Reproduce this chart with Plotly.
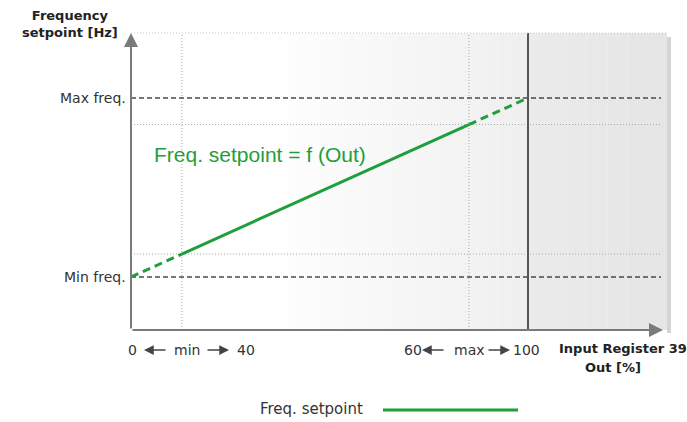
import plotly.graph_objects as go

# ---------------- data ----------------
OUT_PCT = [0, 12.8, 85.1, 100]        # Input Register 39 Out [%]
FREQ_HZ = [20, 27.7, 71.1, 80]        # frequency setpoint
MIN_FREQ, MAX_FREQ = 20, 80
MIN_OUT, MAX_OUT = 12.8, 85.1
FULL_OUT = 100
Y_LABELS = ["Min freq.", "Max freq."]
X_GROUP_LEFT = ["0", "min", "40"]
X_GROUP_RIGHT = ["60", "max", "100"]
SERIES_NAME = "Freq. setpoint"
FORMULA = "Freq. setpoint = f (Out)"
Y_TITLE = "<b>Frequency</b><br><b>setpoint [Hz]</b>"
X_TITLE = ["<b>Input Register 39</b>", "<b>Out [%]</b>"]

# ---------------- geometry helpers (layout only) ----------------
W, H = 687, 422
L, R, T, B = 131, 20, 33, 92
PW, PH = W - L - R, H - T - B
SX = (528 - 131) / 100.0
SY = (277 - 98) / 60.0


def px2x(px):
    return (px - 131) / SX


def py2y(py):
    return 20 + (277 - py) / SY


def ppx(px):  # pixel -> paper x
    return (px - L) / PW


def ppy(py):  # pixel -> paper y
    return (T + PH - py) / PH


XR = [0, px2x(L + PW)]
YR = [py2y(T + PH), py2y(T)]

GREEN = "#1f9e3c"
TXT = "#333333"
FONT = "DejaVu Sans"

fig = go.Figure()

styles = [dict(dash="8px,5px"), dict(dash="solid"), dict(dash="8px,5px")]
for i in range(3):
    fig.add_trace(go.Scatter(
        x=OUT_PCT[i:i + 2], y=FREQ_HZ[i:i + 2], mode="lines",
        line=dict(color=GREEN, width=3, **styles[i]),
        name=SERIES_NAME, showlegend=False, hoverinfo="skip"))

shapes = []
# gradient background panel
N = 40
for i in range(N):
    a = 131 + (528 - 131) * i / N
    b = 131 + (528 - 131) * (i + 1) / N
    t = max(0.0, ((a + b) / 2 - 260) / (528 - 260))
    g = int(round(255 - t * 16))
    shapes.append(dict(type="rect", xref="x", yref="y", x0=px2x(a), x1=px2x(b) + 0.05,
                       y0=YR[0], y1=YR[1], fillcolor=f"rgb({g},{g},{g})",
                       line=dict(width=0), layer="below"))
N2 = 14
for i in range(N2):
    a = 528 + (667 - 528) * i / N2
    b = 528 + (667 - 528) * (i + 1) / N2
    t = ((a + b) / 2 - 528) / (667 - 528)
    g = int(round(235 - t * 6))
    shapes.append(dict(type="rect", xref="x", yref="y", x0=px2x(a), x1=px2x(b) + 0.05,
                       y0=YR[0], y1=YR[1], fillcolor=f"rgb({g},{g},{g})",
                       line=dict(width=0), layer="below"))
# right shadow
shapes.append(dict(type="rect", xref="paper", yref="paper", x0=1.0, x1=1 + 4 / PW,
                   y0=-3 / PH, y1=1 - 4 / PH, fillcolor="#d4d4d4", line=dict(width=0), layer="below"))
# top dotted border
shapes.append(dict(type="line", xref="paper", yref="paper", x0=0, x1=1, y0=1, y1=1,
                   line=dict(color="#c8c8c8", width=1, dash="1px,2px")))

# dotted helper lines
for yv in [FREQ_HZ[1], FREQ_HZ[2]]:
    shapes.append(dict(type="line", xref="x", yref="y", x0=0, x1=px2x(661), y0=yv, y1=yv,
                       line=dict(color="#a8a8a8", width=1, dash="1px,2px"), layer="below"))
for xv in [MIN_OUT, MAX_OUT]:
    shapes.append(dict(type="line", xref="x", yref="y", x0=xv, x1=xv, y0=YR[0], y1=YR[1],
                       line=dict(color="#a8a8a8", width=1, dash="1px,2px"), layer="below"))
# dashed min / max frequency lines
for yv in [MIN_FREQ, MAX_FREQ]:
    shapes.append(dict(type="line", xref="x", yref="y", x0=0, x1=px2x(661), y0=yv, y1=yv,
                       line=dict(color="#4a4a4a", width=1.5, dash="5px,3px"), layer="below"))
# 100 % line
shapes.append(dict(type="line", xref="x", yref="y", x0=FULL_OUT, x1=FULL_OUT, y0=YR[0], y1=YR[1],
                   line=dict(color="#555555", width=2), layer="below"))
# legend line
shapes.append(dict(type="line", xref="paper", yref="paper", x0=ppx(383), x1=ppx(518),
                   y0=ppy(410), y1=ppy(410), line=dict(color=GREEN, width=3)))

ann = []
AX = "#7a7a7a"
# axes with arrows
ann.append(dict(xref="x", yref="y", axref="x", ayref="y", x=0, y=YR[1], ax=0, ay=YR[0],
                text="", showarrow=True, arrowhead=2, arrowsize=1.4, arrowwidth=2,
                arrowcolor=AX, standoff=0, startstandoff=0))
ann.append(dict(xref="x", yref="y", axref="x", ayref="y", x=px2x(663), y=YR[0], ax=0, ay=YR[0],
                text="", showarrow=True, arrowhead=2, arrowsize=1.4, arrowwidth=2,
                arrowcolor=AX, standoff=0, startstandoff=0))

f14 = dict(family=FONT, size=14, color=TXT)
fb13 = dict(family=FONT, size=13, color="#222222")
# y labels
for lab, yv in zip(Y_LABELS, [MIN_FREQ, MAX_FREQ]):
    ann.append(dict(xref="paper", yref="y", x=ppx(128), y=yv, text=lab, showarrow=False,
                    xanchor="right", yanchor="middle", font=f14))
# y title
ann.append(dict(xref="paper", yref="paper", x=ppx(70), y=ppy(24), text=Y_TITLE, showarrow=False,
                xanchor="center", yanchor="middle", font=fb13))
# x groups
ylab = ppy(350)
for grp, centers, arrows in [
        (X_GROUP_LEFT, [132, 187, 246], [(167, 144), (206, 229)]),
        (X_GROUP_RIGHT, [413, 469, 526], [(445, 422), (487, 510)])]:
    for txt, c in zip(grp, centers):
        ann.append(dict(xref="paper", yref="paper", x=ppx(c), y=ylab, text=txt, showarrow=False,
                        xanchor="center", yanchor="middle", font=f14))
    for tail, tip in arrows:
        ann.append(dict(xref="paper", yref="paper", x=ppx(tip), y=ylab,
                        ax=tail - tip, ay=0, text="", showarrow=True, arrowhead=2,
                        arrowsize=1.3, arrowwidth=1.5, arrowcolor="#444444",
                        standoff=0, startstandoff=0))
# x title
ann.append(dict(xref="paper", yref="paper", x=ppx(557), y=ppy(348), text=X_TITLE[0], showarrow=False,
                xanchor="left", yanchor="middle", font=fb13))
ann.append(dict(xref="paper", yref="paper", x=ppx(613), y=ppy(367), text=X_TITLE[1], showarrow=False,
                xanchor="center", yanchor="middle", font=fb13))
# formula
ann.append(dict(xref="x", yref="y", x=px2x(152), y=py2y(154), text=FORMULA, showarrow=False,
                xanchor="left", yanchor="middle",
                font=dict(family="Liberation Sans", size=21, color=GREEN)))
# legend text
ann.append(dict(xref="paper", yref="paper", x=ppx(258), y=ppy(409), text=SERIES_NAME,
                showarrow=False, xanchor="left", yanchor="middle",
                font=dict(family=FONT, size=15, color=TXT)))

fig.update_layout(
    width=W, height=H, margin=dict(l=L, r=R, t=T, b=B, pad=0),
    paper_bgcolor="white", plot_bgcolor="white",
    xaxis=dict(range=XR, showgrid=False, zeroline=False, showticklabels=False,
               showline=False, ticks="", fixedrange=True),
    yaxis=dict(range=YR, showgrid=False, zeroline=False, showticklabels=False,
               showline=False, ticks="", fixedrange=True),
    shapes=shapes, annotations=ann, showlegend=False,
)

fig.write_html("out.html", config={"displayModeBar": False},
               post_script="document.body.style.margin='0';document.body.style.overflow='hidden';")
